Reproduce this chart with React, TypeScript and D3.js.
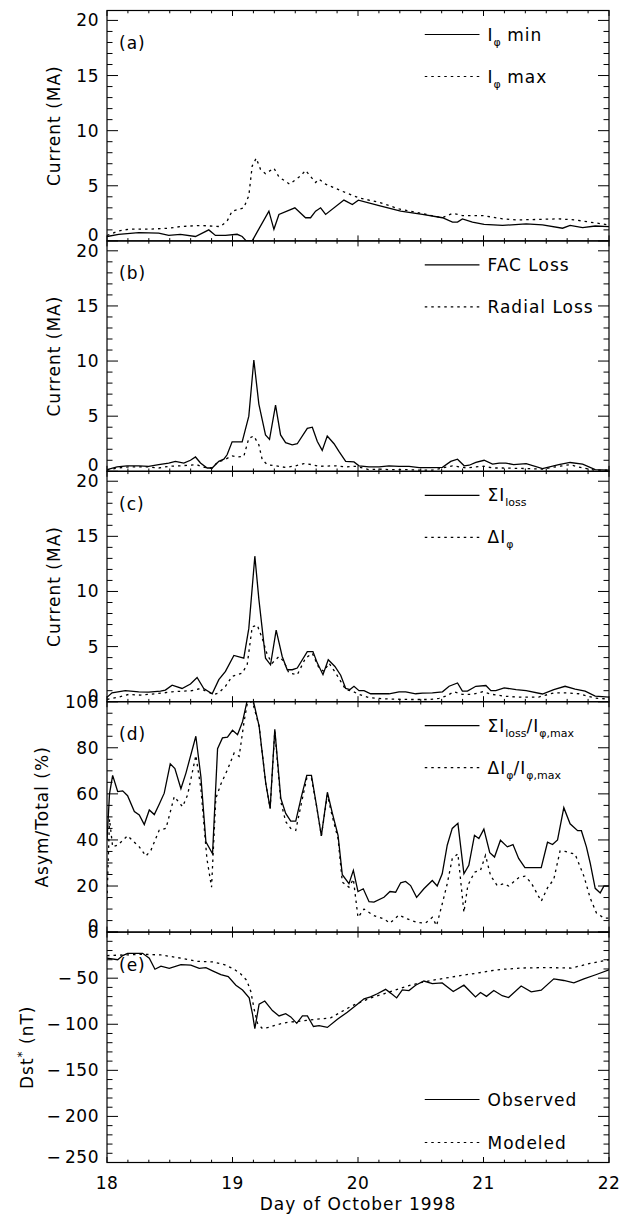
import React from "react";
import * as d3 from "d3";

type Pt = [number, number];
type Seg = [string, boolean];

// ---- data (day of October 1998, value) ----
const iphiMin: Pt[] = [[18.0,0.4],[18.093,0.6],[18.253,0.75],[18.412,0.7],[18.492,0.5],[18.585,0.6],[18.705,0.4],[18.811,1.0],[18.864,0.5],[18.944,0.5],[19.037,0.6],[19.077,0.4],[19.109,0],[19.157,0],[19.29,2.7],[19.33,1.05],[19.37,2.4],[19.497,3.0],[19.582,2.1],[19.622,2.1],[19.662,2.7],[19.702,3.0],[19.742,2.4],[19.888,3.7],[19.955,3.3],[20.003,3.7],[20.168,3.2],[20.34,2.7],[20.513,2.4],[20.673,2.1],[20.753,1.7],[20.793,1.7],[20.832,2.0],[20.912,1.7],[21.005,1.5],[21.152,1.4],[21.34,1.55],[21.47,1.45],[21.63,1.15],[21.69,1.4],[21.79,1.2],[21.89,1.35],[22.0,1.3]];
const iphiMax: Pt[] = [[18.0,0.5],[18.093,0.9],[18.173,1.06],[18.332,1.06],[18.492,1.15],[18.585,1.3],[18.745,1.4],[18.904,1.3],[18.957,1.8],[18.997,2.7],[19.09,3.0],[19.13,4.1],[19.157,6.8],[19.189,7.5],[19.223,6.5],[19.263,6.1],[19.33,6.6],[19.37,5.8],[19.455,5.15],[19.543,5.9],[19.582,6.4],[19.662,5.3],[19.689,5.6],[19.742,5.15],[19.875,4.5],[20.008,3.9],[20.168,3.5],[20.327,2.9],[20.5,2.5],[20.673,2.1],[20.753,2.5],[20.832,2.3],[20.992,2.3],[21.152,2.0],[21.27,1.9],[21.6,2.0],[21.73,1.9],[21.85,1.7],[22.0,1.45]];

const facLoss: Pt[] = [[18.0,0.15],[18.08,0.4],[18.16,0.5],[18.253,0.5],[18.332,0.45],[18.412,0.6],[18.492,0.75],[18.545,0.9],[18.612,0.75],[18.665,1.0],[18.705,1.3],[18.745,0.75],[18.798,0.3],[18.838,0.3],[18.891,0.9],[18.931,1.1],[18.957,1.5],[18.997,2.67],[19.077,2.67],[19.13,5.0],[19.17,10.1],[19.21,6.1],[19.263,3.3],[19.295,2.9],[19.343,6.0],[19.383,3.3],[19.423,2.6],[19.476,2.4],[19.516,2.5],[19.596,3.9],[19.636,4.0],[19.676,2.7],[19.715,1.9],[19.755,3.2],[19.809,2.5],[19.848,1.8],[19.902,0.9],[19.968,0.85],[20.008,0.5],[20.088,0.4],[20.168,0.4],[20.247,0.5],[20.327,0.45],[20.407,0.45],[20.487,0.33],[20.593,0.33],[20.673,0.36],[20.739,0.9],[20.793,1.1],[20.846,0.5],[20.886,0.55],[20.939,0.8],[21.005,1.0],[21.072,0.65],[21.125,0.75],[21.178,0.75],[21.24,0.6],[21.34,0.7],[21.47,0.25],[21.6,0.6],[21.69,0.8],[21.79,0.65],[21.89,0.15],[22.0,0.1]];
const radialLoss: Pt[] = [[18.0,0.1],[18.08,0.3],[18.173,0.4],[18.332,0.4],[18.412,0.3],[18.492,0.45],[18.585,0.5],[18.718,0.6],[18.745,0.45],[18.798,0.3],[18.838,0.3],[18.878,0.8],[18.944,1.1],[18.997,1.4],[19.037,1.3],[19.09,1.35],[19.13,3.0],[19.17,3.2],[19.21,2.4],[19.237,1.05],[19.277,0.6],[19.343,0.5],[19.423,0.35],[19.503,0.5],[19.569,0.7],[19.636,0.6],[19.689,0.45],[19.822,0.5],[19.902,0.4],[19.981,0.45],[20.035,0.3],[20.088,0.15],[20.168,0.2],[20.247,0.15],[20.407,0.15],[20.487,0.1],[20.593,0.1],[20.673,0.3],[20.753,0.5],[20.806,0.4],[20.872,0.3],[20.939,0.4],[21.005,0.45],[21.072,0.3],[21.152,0.3],[21.34,0.25],[21.47,0.2],[21.6,0.45],[21.69,0.6],[21.79,0.3],[21.89,0.1],[22.0,0.1]];

const sumLoss: Pt[] = [[18.0,0.4],[18.04,0.8],[18.146,1.0],[18.253,0.9],[18.332,0.87],[18.426,0.96],[18.465,1.05],[18.519,1.5],[18.598,1.2],[18.665,1.6],[18.718,2.2],[18.771,1.2],[18.838,0.72],[18.891,2.0],[18.944,2.75],[19.011,4.2],[19.09,3.95],[19.13,6.65],[19.178,13.2],[19.21,9.3],[19.263,3.95],[19.303,3.35],[19.348,6.5],[19.396,4.1],[19.436,2.9],[19.476,2.9],[19.516,3.05],[19.596,4.55],[19.641,4.55],[19.676,3.5],[19.721,2.45],[19.763,3.8],[19.816,3.2],[19.862,2.4],[19.902,1.2],[19.936,1.1],[19.968,1.4],[20.008,1.0],[20.048,1.0],[20.101,0.72],[20.247,0.72],[20.327,0.9],[20.38,0.9],[20.46,0.72],[20.513,0.78],[20.593,0.8],[20.673,0.9],[20.726,1.4],[20.793,1.7],[20.832,0.96],[20.872,0.96],[20.939,1.4],[21.019,1.47],[21.059,1.0],[21.098,1.0],[21.165,1.25],[21.26,1.1],[21.34,1.0],[21.47,0.7],[21.56,1.1],[21.65,1.4],[21.73,1.15],[21.81,0.95],[21.89,0.5],[22.0,0.42]];
const deltaIphi: Pt[] = [[18.0,0.2],[18.093,0.42],[18.173,0.66],[18.266,0.6],[18.439,0.78],[18.519,0.9],[18.678,1.0],[18.745,1.2],[18.798,0.9],[18.851,0.66],[18.891,0.8],[18.944,1.4],[18.997,2.3],[19.077,2.6],[19.117,3.35],[19.157,6.8],[19.197,6.95],[19.237,5.75],[19.277,4.25],[19.316,3.5],[19.37,4.1],[19.41,3.65],[19.449,2.6],[19.516,2.45],[19.582,3.95],[19.636,4.4],[19.689,3.05],[19.729,2.75],[19.769,3.5],[19.822,2.6],[19.862,1.85],[19.902,1.1],[19.955,0.96],[20.008,0.66],[20.088,0.36],[20.168,0.3],[20.247,0.24],[20.407,0.2],[20.566,0.2],[20.646,0.3],[20.699,0.5],[20.766,0.9],[20.832,0.66],[20.912,0.66],[20.992,0.9],[21.072,0.66],[21.165,0.5],[21.27,0.42],[21.44,0.42],[21.56,0.8],[21.66,0.8],[21.76,0.72],[21.89,0.33],[22.0,0.24]];

const sumLossPct: Pt[] = [[18.0,40],[18.02,60],[18.045,68],[18.085,61],[18.125,61.3],[18.164,59.2],[18.218,52.3],[18.257,50.8],[18.297,46.7],[18.337,53],[18.377,51],[18.416,55.5],[18.456,60.3],[18.504,73],[18.541,71],[18.589,62.2],[18.629,69],[18.708,85],[18.748,67.5],[18.788,39.2],[18.841,34],[18.881,79.6],[18.92,84.3],[18.96,84.6],[19.0,87.6],[19.04,85.7],[19.08,91.3],[19.119,101],[19.159,102],[19.212,89.4],[19.265,64.6],[19.3,53.7],[19.337,88],[19.385,58],[19.424,51.5],[19.464,48.2],[19.504,48.2],[19.549,58.8],[19.592,68],[19.629,68],[19.671,54.4],[19.708,41.8],[19.756,60.7],[19.796,51.5],[19.841,42],[19.875,24.9],[19.928,21],[19.963,26.8],[20.0,17.6],[20.042,18.8],[20.088,13.2],[20.127,13],[20.207,15.1],[20.255,17.6],[20.3,17.3],[20.34,21.4],[20.379,22],[20.419,20.2],[20.467,15.1],[20.525,18.8],[20.592,22.4],[20.631,20],[20.671,25.3],[20.711,37.7],[20.751,45],[20.796,47.2],[20.844,25.3],[20.883,29],[20.928,42],[20.963,40.6],[21.003,44.7],[21.05,34.5],[21.088,32.6],[21.135,39.9],[21.19,37],[21.235,38],[21.28,32],[21.33,28],[21.4,28],[21.46,28],[21.51,39],[21.55,38],[21.59,40],[21.64,54],[21.69,47],[21.75,44],[21.78,44],[21.82,37],[21.85,30],[21.89,19],[21.93,17],[21.96,20],[22.0,20]];
const deltaPct: Pt[] = [[18.0,14],[18.02,49],[18.045,37],[18.085,37.7],[18.164,41.8],[18.218,39],[18.257,37],[18.31,33],[18.35,35.5],[18.416,44.2],[18.47,45],[18.536,58.8],[18.602,54.4],[18.642,59.5],[18.708,76.7],[18.748,62.4],[18.796,31.9],[18.833,19.5],[18.867,58],[18.907,64.2],[18.96,70.5],[19.013,77.7],[19.053,76.3],[19.093,91.6],[19.119,99.6],[19.159,100],[19.212,89.4],[19.265,64.6],[19.3,53.7],[19.337,87.2],[19.385,56.6],[19.424,47.9],[19.464,45],[19.504,44.2],[19.557,58],[19.592,66.8],[19.629,66.8],[19.671,54.4],[19.708,41.8],[19.756,59.5],[19.796,50],[19.841,40.6],[19.875,21.7],[19.928,19.5],[19.963,23],[20.0,6.4],[20.048,10],[20.127,7.1],[20.207,5.7],[20.255,3.9],[20.326,7.4],[20.393,5.7],[20.472,4.2],[20.538,3.9],[20.592,6.4],[20.626,2.8],[20.671,12.2],[20.711,21],[20.751,31.9],[20.796,34],[20.844,8.6],[20.875,20.2],[20.928,26],[20.976,26.8],[21.016,33.3],[21.056,24.6],[21.109,20.2],[21.162,21],[21.2,20],[21.28,23.6],[21.33,24.3],[21.38,21.4],[21.46,13.4],[21.51,19.2],[21.56,22.9],[21.61,35.2],[21.65,35],[21.73,33.8],[21.8,24.3],[21.85,14.8],[21.9,8.3],[21.96,6.1],[22.0,6.1]];

const dstObserved: Pt[] = [[18.0,-28.3],[18.085,-30],[18.125,-25.5],[18.164,-23],[18.284,-23],[18.337,-28.3],[18.382,-40.3],[18.43,-36.9],[18.496,-39.3],[18.589,-35.2],[18.668,-35.9],[18.735,-39.3],[18.788,-38.6],[18.841,-42],[18.907,-46.2],[18.966,-48.3],[19.027,-57.6],[19.08,-62.8],[19.133,-71.4],[19.159,-88.6],[19.178,-104.8],[19.212,-78.3],[19.257,-74.8],[19.318,-85.2],[19.371,-91],[19.424,-88.6],[19.464,-92],[19.512,-99],[19.557,-91],[19.597,-91],[19.645,-102.4],[19.69,-101.4],[19.756,-103.4],[19.836,-94.5],[19.915,-86.9],[19.995,-78.3],[20.048,-72.4],[20.1,-70.3],[20.154,-66.9],[20.22,-62.1],[20.26,-66.2],[20.308,-71.4],[20.353,-62.8],[20.406,-63.4],[20.459,-57.6],[20.525,-53.1],[20.592,-55.9],[20.671,-55.2],[20.759,-64.5],[20.844,-57.6],[20.936,-70.3],[20.976,-65.5],[21.024,-69.7],[21.082,-63.4],[21.149,-69],[21.2,-71],[21.3,-58.5],[21.38,-64.8],[21.46,-63],[21.56,-50.7],[21.64,-52.5],[21.72,-55],[21.8,-50.7],[21.9,-46],[22.0,-41]];
const dstModeled: Pt[] = [[18.0,-25.5],[18.138,-24.8],[18.284,-24.1],[18.43,-24.8],[18.589,-28.3],[18.721,-31.7],[18.841,-32.4],[18.934,-35.2],[19.013,-40.3],[19.066,-45.5],[19.114,-52.4],[19.146,-64.5],[19.172,-83.4],[19.199,-98.9],[19.239,-104.8],[19.292,-103.4],[19.345,-100.7],[19.438,-97.9],[19.544,-96.6],[19.676,-94.5],[19.782,-93.1],[19.862,-86.9],[19.942,-80.7],[20.021,-75.9],[20.101,-71.4],[20.207,-66.9],[20.313,-62.1],[20.419,-57.6],[20.525,-54.1],[20.631,-51.4],[20.737,-49],[20.844,-46.6],[20.95,-44.5],[21.056,-42],[21.162,-40.3],[21.3,-39],[21.5,-38.5],[21.7,-39],[21.85,-34],[22.0,-30]];

const dayTicks = [18, 19, 20, 21, 22];
const currentTicks = [0, 5, 10, 15, 20];
const pctTicks = [0, 20, 40, 60, 80, 100];
const dstTicks = [-250, -200, -150, -100, -50, 0];

// legend labels: [text, subscript?]
const legA: Seg[][] = [[["I", false], ["\u03c6", true], [" min", false]], [["I", false], ["\u03c6", true], [" max", false]]];
const legB: Seg[][] = [[["FAC Loss", false]], [["Radial Loss", false]]];
const legC: Seg[][] = [[["\u03a3I", false], ["loss", true]], [["\u0394I", false], ["\u03c6", true]]];
const legD: Seg[][] = [
  [["\u03a3I", false], ["loss", true], ["/I", false], ["\u03c6,max", true]],
  [["\u0394I", false], ["\u03c6", true], ["/I", false], ["\u03c6,max", true]],
];
const legE: Seg[][] = [[["Observed", false]], [["Modeled", false]]];

// ---- layout ----
const W = 631;
const H = 1219;
const X0 = 107;
const X1 = 609;
const TOP = 10.5;
const PH = 230.4;
const FONT = "'DejaVu Sans', sans-serif";

const x = d3.scaleLinear().domain([18, 22]).range([X0, X1]);

const panels = [
  { tag: "(a)", domain: [0, 20.9], ticks: currentTicks, minor: 1, title: "Current (MA)", titleX: 54, solid: iphiMin, dotted: iphiMax, legend: legA, legendBottom: false },
  { tag: "(b)", domain: [0, 20.9], ticks: currentTicks, minor: 1, title: "Current (MA)", titleX: 54, solid: facLoss, dotted: radialLoss, legend: legB, legendBottom: false },
  { tag: "(c)", domain: [0, 20.9], ticks: currentTicks, minor: 1, title: "Current (MA)", titleX: 54, solid: sumLoss, dotted: deltaIphi, legend: legC, legendBottom: false },
  { tag: "(d)", domain: [0, 100], ticks: pctTicks, minor: 5, title: "Asym/Total (%)", titleX: 42, solid: sumLossPct, dotted: deltaPct, legend: legD, legendBottom: false },
  { tag: "(e)", domain: [-250, 0], ticks: dstTicks, minor: 10, title: "Dst", titleX: 27, solid: dstObserved, dotted: dstModeled, legend: legE, legendBottom: true },
];

function LegendText({ segs, x0, y0 }: { segs: Seg[]; x0: number; y0: number }) {
  let wasSub = false;
  return (
    <text x={x0} y={y0} fontSize={17} letterSpacing={1}>
      {segs.map(([t, sub], k) => {
        const dy = sub && !wasSub ? 5 : !sub && wasSub ? -5 : 0;
        wasSub = sub;
        return (
          <tspan key={k} dy={dy} fontSize={sub ? 11 : 17} letterSpacing={sub ? 0 : 1}>
            {t}
          </tspan>
        );
      })}
    </text>
  );
}

function Panel({ p, i }: { p: (typeof panels)[number]; i: number }) {
  const top = TOP + i * PH;
  const bottom = top + PH;
  const y = d3.scaleLinear().domain(p.domain).range([bottom, top]);
  const line = d3
    .line<Pt>()
    .x((d) => x(d[0]))
    .y((d) => y(d[1]));

  const xMinor = d3.range(0, 25).map((k) => 18 + k / 6);
  const yMinor = d3.range(p.ticks[0], p.ticks[p.ticks.length - 1] + 1e-6, p.minor);
  const clipId = `clip${i}`;

  const legX1 = X0 + 0.633 * (X1 - X0);
  const legX2 = X0 + 0.742 * (X1 - X0);
  const legTx = X0 + 0.758 * (X1 - X0);
  const rows = p.legendBottom ? [bottom - 57, bottom - 14] : [top + 30, top + 72];

  return (
    <g>
      <defs>
        <clipPath id={clipId}>
          <rect x={X0} y={top} width={X1 - X0} height={PH} />
        </clipPath>
      </defs>
      <g clipPath={`url(#${clipId})`} fill="none" stroke="#000">
        <path d={line(p.dotted) || ""} strokeWidth={1.3} strokeDasharray="2.5,4" />
        <path d={line(p.solid) || ""} strokeWidth={1.3} />
      </g>
      <rect x={X0} y={top} width={X1 - X0} height={PH} fill="none" stroke="#000" strokeWidth={1.2} />
      {/* x ticks top & bottom */}
      {xMinor.map((v, k) => {
        const len = k % 6 === 0 ? 5.5 : 2.8;
        return (
          <g key={`xt${k}`} stroke="#000" strokeWidth={1}>
            <line x1={x(v)} x2={x(v)} y1={bottom} y2={bottom - len} />
            <line x1={x(v)} x2={x(v)} y1={top} y2={top + len} />
          </g>
        );
      })}
      {/* y ticks left & right */}
      {yMinor.map((v, k) => {
        const major = p.ticks.some((t) => Math.abs(t - v) < 1e-6);
        const len = major ? 11 : 5.5;
        return (
          <g key={`yt${k}`} stroke="#000" strokeWidth={1}>
            <line x1={X0} x2={X0 + len} y1={y(v)} y2={y(v)} />
            <line x1={X1} x2={X1 - len} y1={y(v)} y2={y(v)} />
          </g>
        );
      })}
      {p.ticks.map((v, k) => (
        <text key={`yl${k}`} x={99} y={y(v) + (k === 0 ? 0 : 6)} textAnchor="end" fontSize={17} letterSpacing={0.5}>
          {v < 0 ? `\u2212\u2009${Math.abs(v)}` : v}
        </text>
      ))}
      <text transform={`translate(${p.titleX},${(top + bottom) / 2}) rotate(-90)`} y={6} textAnchor="middle" fontSize={17} letterSpacing={1}>
        {p.title === "Dst" ? (
          <>
            Dst<tspan dy={-7} fontSize={12}>*</tspan>
            <tspan dy={7}> (nT)</tspan>
          </>
        ) : (
          p.title
        )}
      </text>
      <text x={119} y={top + 38.5} fontSize={17} letterSpacing={1}>
        {p.tag}
      </text>
      {p.legend.map((segs, k) => (
        <g key={`lg${k}`}>
          <line
            x1={legX1}
            x2={legX2}
            y1={rows[k] - 6}
            y2={rows[k] - 6}
            stroke="#000"
            strokeWidth={1.2}
            strokeDasharray={k === 1 ? "2.5,4" : undefined}
          />
          <LegendText segs={segs} x0={legTx} y0={rows[k]} />
        </g>
      ))}
    </g>
  );
}

export default function App() {
  const bottom = TOP + 5 * PH;
  return (
    <svg
      width={W}
      height={H}
      viewBox={`0 0 ${W} ${H}`}
      style={{ position: "absolute", left: 0, top: 0, background: "#fff" }}
      fontFamily={FONT}
      fill="#000"
    >
      <rect width={W} height={H} fill="#fff" />
      {panels.map((p, i) => (
        <Panel key={i} p={p} i={i} />
      ))}
      {dayTicks.map((d) => (
        <text key={d} x={x(d)} y={bottom + 26} textAnchor="middle" fontSize={17} letterSpacing={0.5}>
          {d}
        </text>
      ))}
      <text x={x(20)} y={bottom + 47} textAnchor="middle" fontSize={17} letterSpacing={1}>
        Day of October 1998
      </text>
    </svg>
  );
}
